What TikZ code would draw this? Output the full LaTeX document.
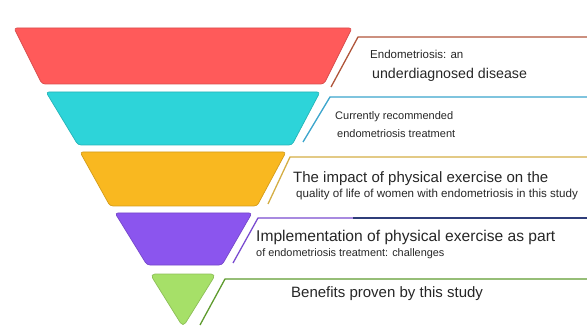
\documentclass[tikz,border=0pt]{standalone}
\usepackage{fontspec}
\setmainfont{Liberation Sans}
\usepackage{tikz}
\definecolor{bandred}{HTML}{FF5A5A}
\definecolor{bandcyan}{HTML}{2DD4D9}
\definecolor{bandyellow}{HTML}{F9B820}
\definecolor{bandpurple}{HTML}{8B55EE}
\definecolor{bandgreen}{HTML}{A6E068}
\definecolor{linered}{HTML}{B0553A}
\definecolor{linecyan}{HTML}{3BA5CC}
\definecolor{lineyellow}{HTML}{D4AE45}
\definecolor{linepurple}{HTML}{7A4CD0}
\definecolor{linenavy}{HTML}{2F3D7A}
\definecolor{linegreen}{HTML}{5E9B2E}
\tikzset{
    band/.style = {rounded corners=3pt, line width=0.7pt, fill=#1, draw=#1!85!black},
    bandr/.style = {band=bandred},
    bandc/.style = {band=bandcyan},
    bandy/.style = {band=bandyellow},
    bandp/.style = {band=bandpurple},
    bandg/.style = {band=bandgreen, rounded corners=5pt},
    lead/.style = {line width=1.3pt, draw=#1},
    txt/.style = {anchor=base west, inner sep=0pt, text=black!85, font=\fontsize{#1}{#1}\selectfont}
}

\begin{document}
\begin{tikzpicture}[x=1pt,y=-1pt]
\useasboundingbox (0,0) rectangle (587,326);
% funnel
\draw[bandr] (14,28) -- (352,28) -- (324,84) -- (42,84) -- cycle;
\draw[bandc] (46,92) -- (320,92) -- (292,145) -- (78,145) -- cycle;
\draw[bandy] (80,152) -- (286,152) -- (257,206) -- (110,206) -- cycle;
\draw[bandp] (115,213) -- (252,213) -- (222,265) -- (147,265) -- cycle;
\draw[bandg] (150,274) -- (216,274) -- (183,327) -- cycle;
%
\coordinate (r0) at (331,87);  \coordinate (r1) at (358,37);  \coordinate (r2) at (587,37);
\coordinate (c0) at (303,142); \coordinate (c1) at (330,97);  \coordinate (c2) at (587,97);
\coordinate (y0) at (268,204); \coordinate (y1) at (290,157); \coordinate (y2) at (587,157);
\coordinate (p0) at (233,263); \coordinate (p1) at (258,218); \coordinate (pm) at (353,218); \coordinate (p2) at (587,218);
\coordinate (g0) at (200,325); \coordinate (g1) at (225,279); \coordinate (g2) at (587,279);
\draw[lead=linered] (r0) -- (r1) -- (r2);
\draw[lead=linecyan] (c0) -- (c1) -- (c2);
\draw[lead=lineyellow] (y0) -- (y1) -- (y2);
\draw[lead=linepurple] (p0) -- (p1) -- (pm);
\draw[lead=linenavy] (pm) -- (p2);
\draw[lead=linegreen] (g0) -- (g1) -- (g2);
% labels
\node[txt=11.5] at (370,59) (t1a) {Endometriosis: an};
\node[txt=14.2] at (372,79) (t1b) {underdiagnosed disease};
\node[txt=11] at (335,120) (t2a) {Currently recommended};
\node[txt=11] at (337,138) (t2b) {endometriosis treatment};
\node[txt=15] at (293,183) (t3a) {The impact of physical exercise on the};
\node[txt=11.6] at (296,198) (t3b) {quality of life of women with endometriosis in this study};
\node[txt=15.6] at (256,241) (t4a) {Implementation of physical exercise as part};
\node[txt=10.9] at (256,256) (t4b) {of endometriosis treatment: challenges};
\node[txt=15] at (291,298) (t5) {Benefits proven by this study};

\end{tikzpicture}
\end{document}
